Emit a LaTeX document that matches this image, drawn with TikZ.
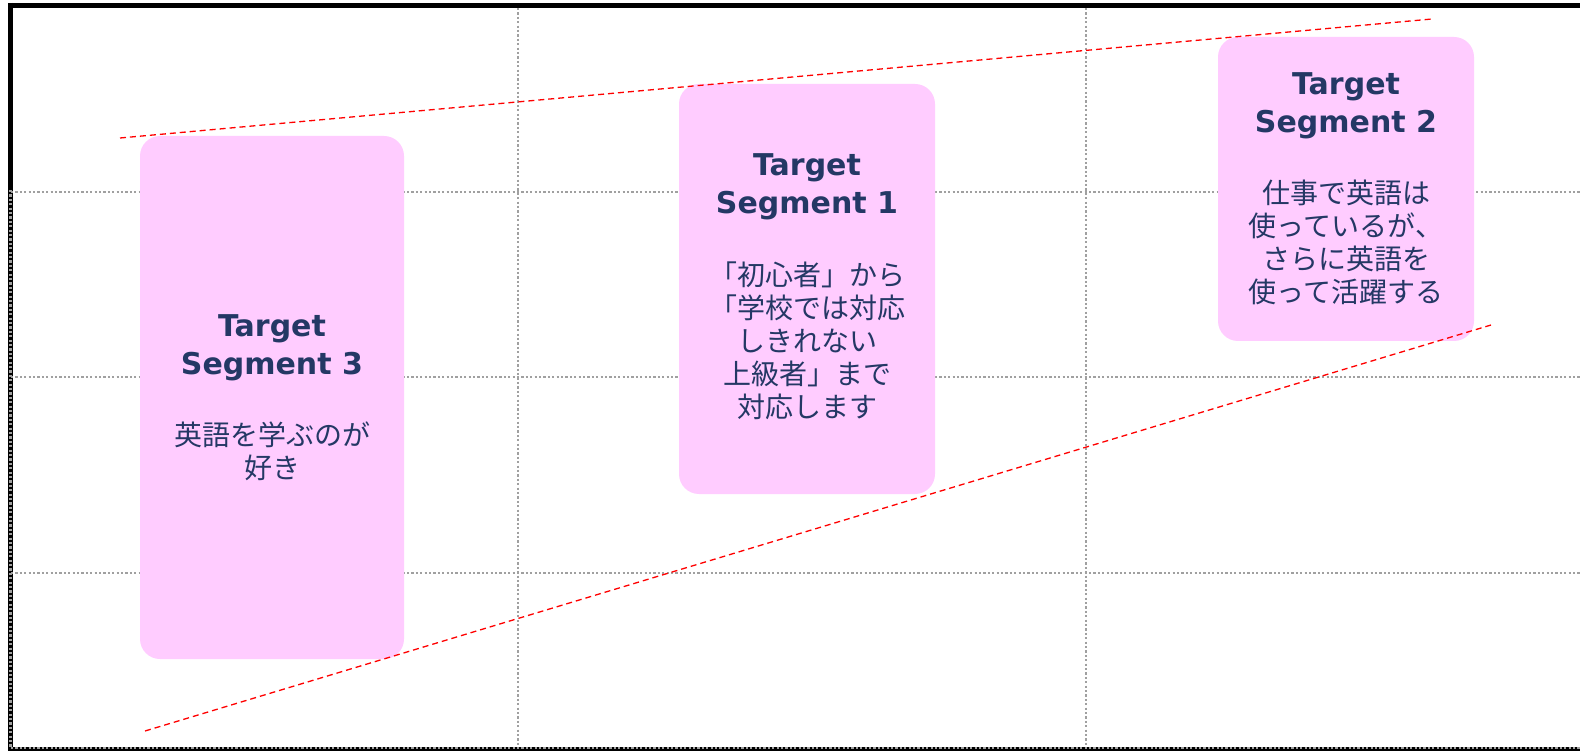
\documentclass[tikz,border=0pt]{standalone}
\usepackage{fontspec}
\newfontfamily\titlefont{DejaVu Sans}[BoldFont={DejaVu Sans Bold}]
\newfontfamily\jpfont{Noto Sans CJK JP}
\definecolor{boxpink}{HTML}{FFCCFF}
\definecolor{navy}{HTML}{243865}
\definecolor{gridgray}{HTML}{A0A0A0}
\tikzset{
  segbox/.style={fill=boxpink, draw=none, rounded corners=20pt, inner sep=0pt},
  segtitle/.style={text=navy, align=center, inner sep=0pt,
    font=\titlefont\bfseries\fontsize{30}{38}\selectfont},
  segbody/.style={text=navy, align=center, inner sep=0pt,
    font=\jpfont\fontsize{28}{33}\selectfont},
  gridline/.style={draw=gridgray, line width=2.2pt, dash pattern=on 2.2pt off 2.2pt},
  frameline/.style={draw=black},
  trendline/.style={draw=red, line width=1.3pt, dash pattern=on 6pt off 4pt}
}
\begin{document}
\begin{tikzpicture}[x=1pt, y=-1pt]
\useasboundingbox (0,0) rectangle (1580,751);
\fill[white] (0,0) rectangle (1580,751);
% frame
\coordinate (tl) at (8,5.75);
\coordinate (tr) at (1580,5.75);
\draw[frameline, line width=5.5pt] (tl) -- (tr);
\coordinate (lt) at (10.5,3);
\coordinate (lb) at (10.5,751);
\draw[frameline, line width=5pt] (lt) -- (lb);
\coordinate (bl) at (8,749);
\coordinate (br) at (1580,749);
\draw[frameline, line width=4.5pt] (bl) -- (br);
% grid
\coordinate (g1t) at (518,8);   \coordinate (g1b) at (518,748);
\coordinate (g2t) at (1086,8);  \coordinate (g2b) at (1086,748);
\coordinate (h1l) at (11,192);  \coordinate (h1r) at (1580,192);
\coordinate (h2l) at (11,377);  \coordinate (h2r) at (1580,377);
\coordinate (h3l) at (11,573);  \coordinate (h3r) at (1580,573);
\coordinate (vlt) at (10.5,190); \coordinate (vlb) at (10.5,748);
\coordinate (hbl) at (11,748);  \coordinate (hbr) at (1580,748);
\draw[gridline] (g1t) -- (g1b);
\draw[gridline] (g2t) -- (g2b);
\draw[gridline] (h1l) -- (h1r);
\draw[gridline] (h2l) -- (h2r);
\draw[gridline] (h3l) -- (h3r);
\draw[gridline] (vlt) -- (vlb);
\draw[gridline] (hbl) -- (hbr);
% boxes
\node[segbox, minimum width=264pt, minimum height=523pt] (b3) at (272,397.5) {};
\node[segbox, minimum width=256pt, minimum height=410pt] (b1) at (807,289) {};
\node[segbox, minimum width=256pt, minimum height=304pt] (b2) at (1346,189) {};
% texts
\node[segtitle] (t3) at (272,347.5) {Target\\Segment 3};
\node[segbody] (s3) at (272,451.5) {英語を学ぶのが\\好き};
\node[segtitle] (t1) at (807,186.5) {Target\\Segment 1};
\node[segbody] (s1) at (807,341) {「初心者」から\\「学校では対応\\しきれない\\上級者」まで\\対応します};
\node[segtitle] (t2) at (1346,105.5) {Target\\Segment 2};
\node[segbody] (s2) at (1346,242) {仕事で英語は\\使っているが、\\さらに英語を\\使って活躍する};
% trend lines
\coordinate (u1) at (120,138);
\coordinate (u2) at (1432,19);
\coordinate (d1) at (145,731);
\coordinate (d2) at (1491,325);
\draw[trendline] (u1) -- (u2);
\draw[trendline] (d1) -- (d2);
\end{tikzpicture}
\end{document}
